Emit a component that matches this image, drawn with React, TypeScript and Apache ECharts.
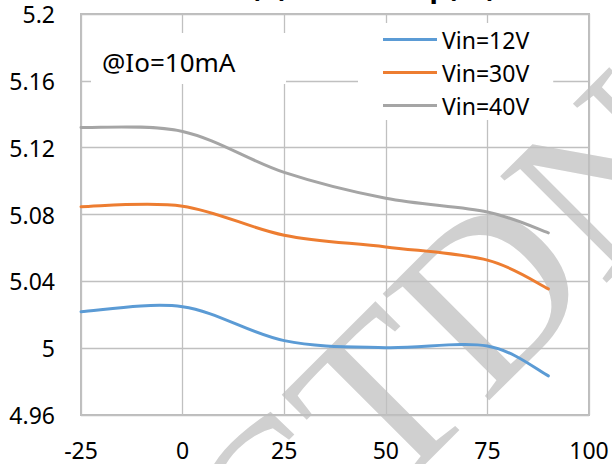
import React, { useEffect, useRef } from 'react';
import * as echarts from 'echarts';

const temps = [-25, 0, 25, 50, 75, 90];
const vin12 = [5.0218, 5.0248, 5.0045, 5.0003, 5.0013, 4.9834];
const vin30 = [5.0847, 5.085, 5.0676, 5.0606, 5.0527, 5.0355];
const vin40 = [5.1321, 5.1297, 5.1052, 5.0897, 5.0815, 5.069];
const seriesNames = ['Vin=12V', 'Vin=30V', 'Vin=40V'];
const seriesValues = [vin12, vin30, vin40];
const colors = ['#5B9BD5', '#ED7D31', '#A5A5A5'];
const xTicks = [-25, 0, 25, 50, 75, 100];
const yTicks = [4.96, 5, 5.04, 5.08, 5.12, 5.16, 5.2];
const titleParts = ['Vout(V)', 'vs Temp(°C)'];
const noteText = '@Io=10mA';
const watermarkText = 'CTDN';

const FONT = '"Noto Sans", sans-serif';

// Excel-style smoothed line (Catmull-Rom bezier) through the points in pixel space
function smoothPath(pts: number[][]): string {
  const n = pts.length;
  let d = `M${pts[0][0]},${pts[0][1]}`;
  for (let i = 0; i < n - 1; i++) {
    const p0 = pts[Math.max(0, i - 1)];
    const p1 = pts[i];
    const p2 = pts[i + 1];
    const p3 = pts[Math.min(n - 1, i + 2)];
    const c1x = p1[0] + (p2[0] - p0[0]) / 6;
    const c1y = p1[1] + (p2[1] - p0[1]) / 6;
    const c2x = p2[0] - (p3[0] - p1[0]) / 6;
    const c2y = p2[1] - (p3[1] - p1[1]) / 6;
    d += ` C${c1x},${c1y} ${c2x},${c2y} ${p2[0]},${p2[1]}`;
  }
  return d;
}

export default function App() {
  const ref = useRef<HTMLDivElement>(null);
  useEffect(() => {
    document.body.style.margin = '0';
    if (!ref.current) return;
    const chart = echarts.init(ref.current, undefined, { renderer: 'svg' });
    const option: any = {
      animation: false,
      backgroundColor: '#fff',
      grid: {
        left: 81,
        right: 23,
        top: 14,
        bottom: 49,
        show: true,
        borderColor: '#bdbdbd',
        borderWidth: 2,
        backgroundColor: 'transparent',
      },
      xAxis: {
        type: 'value',
        min: xTicks[0],
        max: xTicks[xTicks.length - 1],
        interval: 25,
        axisLine: { show: false },
        axisTick: { show: false },
        splitLine: { show: true, lineStyle: { color: '#c0c0c0', width: 1.3 } },
        axisLabel: { fontFamily: FONT, fontSize: 23, color: '#000', margin: 23 },
      },
      yAxis: {
        type: 'value',
        min: yTicks[0],
        max: yTicks[yTicks.length - 1],
        interval: 0.04,
        axisLine: { show: false },
        axisTick: { show: false },
        splitLine: { show: true, lineStyle: { color: '#c0c0c0', width: 1.3 } },
        axisLabel: {
          fontFamily: FONT,
          fontSize: 23,
          color: '#000',
          margin: 26,
          formatter: (v: number) => String(+v.toFixed(2)),
        },
      },
      legend: {
        orient: 'vertical',
        left: 358,
        top: 23,
        padding: [5, 24, 3, 25],
        backgroundColor: '#fff',
        itemWidth: 54,
        itemHeight: 3,
        itemGap: 10,
        icon: 'rect',
        textStyle: { fontFamily: FONT, fontSize: 23, color: '#000', lineHeight: 23 },
        data: seriesNames,
      },
      graphic: [
        {
          type: 'text',
          x: 222,
          y: 558,
          rotation: Math.PI / 4,
          z: -10,
          silent: true,
          style: {
            text: watermarkText,
            fontFamily: '"Liberation Serif", serif',
            fontSize: 230,
            fill: '#d0d0d0',
            align: 'left',
            verticalAlign: 'middle',
          },
        },
        {
          type: 'rect',
          z: 5,
          silent: true,
          shape: { x: 91, y: 33, width: 195, height: 51 },
          style: { fill: '#fff' },
        },
        {
          type: 'text',
          z: 6,
          x: 102,
          y: 62,
          style: {
            text: noteText,
            fontFamily: FONT,
            fontSize: 26,
            fill: '#000',
            align: 'left',
            verticalAlign: 'middle',
          },
        },
        {
          type: 'text',
          z: 6,
          x: 288,
          y: -14,
          style: {
            text: titleParts[0],
            fontFamily: FONT,
            fontWeight: 'bold',
            fontSize: 28,
            fill: '#000',
            align: 'right',
            verticalAlign: 'middle',
          },
        },
        {
          type: 'text',
          z: 6,
          x: 496,
          y: -14,
          style: {
            text: titleParts[1],
            fontFamily: FONT,
            fontWeight: 'bold',
            fontSize: 28,
            fill: '#000',
            align: 'right',
            verticalAlign: 'middle',
          },
        },
      ],
      series: seriesNames.map((name, si) => ({
        name,
        type: 'custom',
        color: colors[si],
        itemStyle: { color: colors[si] },
        z: 3,
        encode: { x: 0, y: 1 },
        data: temps.map((t, i) => [t, seriesValues[si][i]]),
        renderItem: (params: any, api: any) => {
          if (params.dataIndex !== 0) return null;
          const pts = temps.map((t, i) => api.coord([t, seriesValues[si][i]]));
          return {
            type: 'path',
            shape: { pathData: smoothPath(pts) },
            style: {
              fill: 'none',
              stroke: colors[si],
              lineWidth: 3,
              lineCap: 'round',
              lineJoin: 'round',
            },
          };
        },
      })),
    };
    chart.setOption(option);
    return () => chart.dispose();
  }, []);
  return <div ref={ref} style={{ width: 612, height: 464 }} />;
}
